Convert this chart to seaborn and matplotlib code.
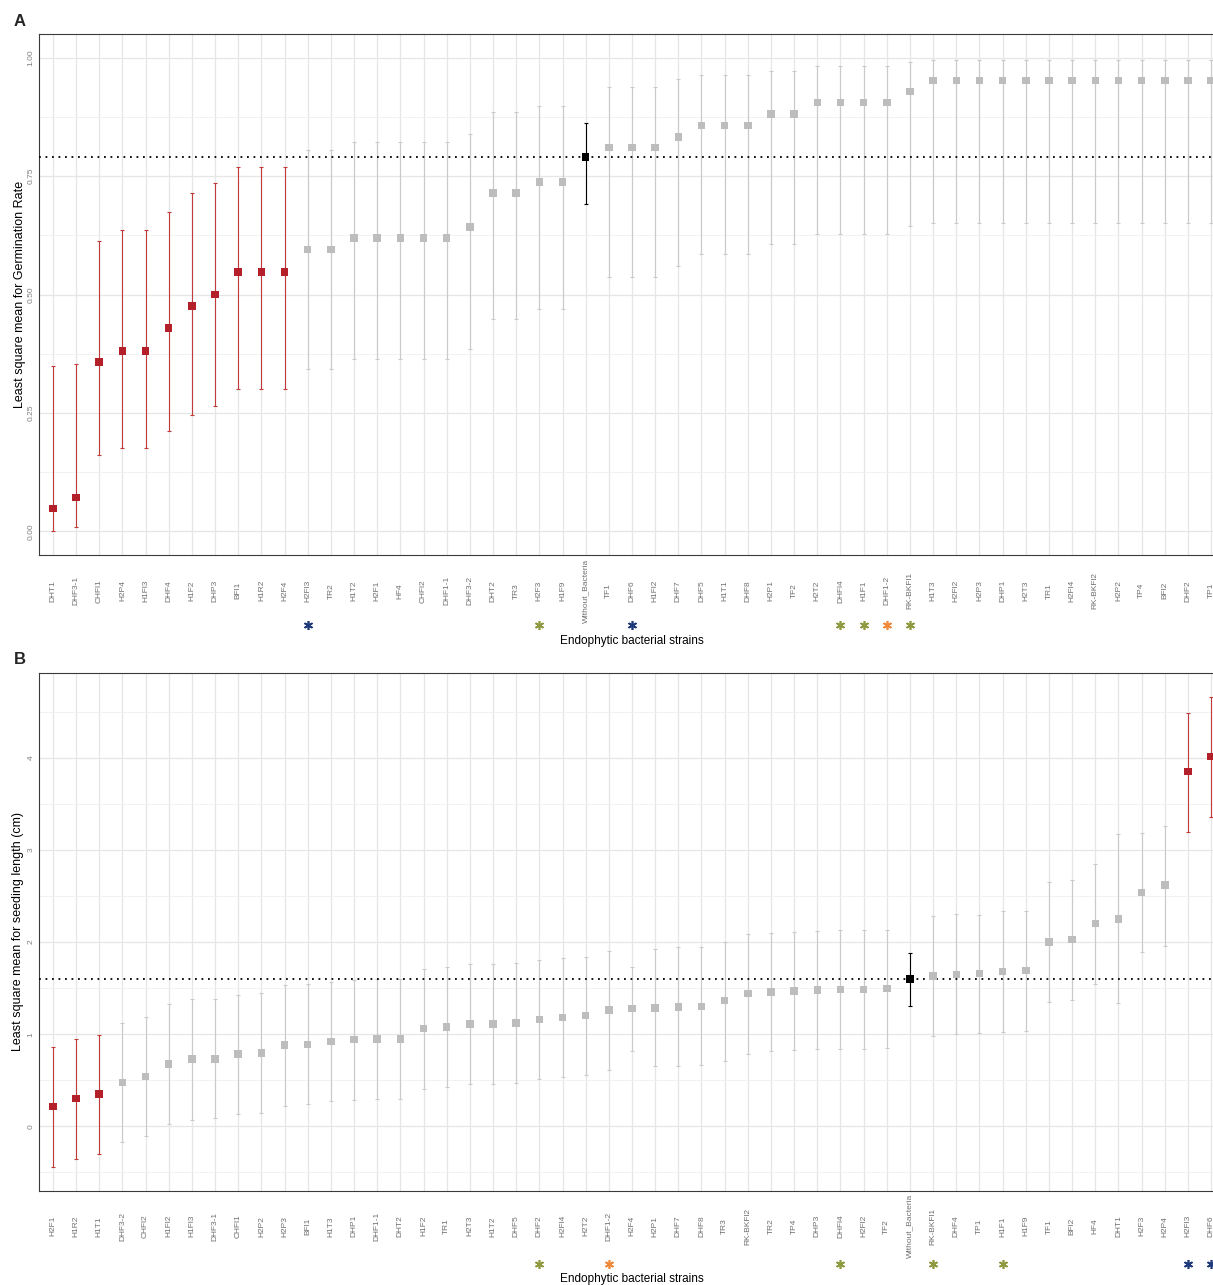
import numpy as np
import pandas as pd
import seaborn as sns
from matplotlib import pyplot as plt
from matplotlib.ticker import MultipleLocator, FormatStrFormatter
from matplotlib.transforms import blended_transform_factory

# ---- panel A: germination rate ----
strains_a = ["DHT1", "DHF3-1", "CHFl1", "H2P4", "H1Fl3", "DHF4", "H1F2", "DHP3", "BFl1", "H1R2",
             "H2F4", "H2Fl3", "TR2", "H1T2", "H2F1", "HF4", "CHFl2", "DHF1-1", "DHF3-2", "DHT2",
             "TR3", "H2F3", "H1F9", "Without_Bacteria", "TF1", "DHF6", "H1Fl2", "DHF7", "DHF5", "H1T1",
             "DHF8", "H2P1", "TF2", "H2T2", "DHFl4", "H1F1", "DHF1-2", "RK-BKFl1", "H1T3", "H2Fl2",
             "H2P3", "DHP1", "H2T3", "TR1", "H2Fl4", "RK-BKFl2", "H2P2", "TP4", "BFl2", "DHF2", "TP1"]
means_a = [0.048, 0.071, 0.357, 0.381, 0.381, 0.429, 0.476, 0.500, 0.548, 0.548,
           0.548, 0.595, 0.595, 0.619, 0.619, 0.619, 0.619, 0.619, 0.643, 0.714,
           0.714, 0.738, 0.738, 0.790, 0.810, 0.810, 0.810, 0.833, 0.857, 0.857,
           0.857, 0.881, 0.881, 0.905, 0.905, 0.905, 0.905, 0.929, 0.952, 0.952,
           0.952, 0.952, 0.952, 0.952, 0.952, 0.952, 0.952, 0.952, 0.952, 0.952, 0.952]
lower_a = [0.001, 0.009, 0.162, 0.175, 0.175, 0.211, 0.246, 0.265, 0.301, 0.301,
           0.301, 0.343, 0.343, 0.364, 0.364, 0.364, 0.364, 0.364, 0.385, 0.449,
           0.449, 0.470, 0.470, 0.692, 0.537, 0.537, 0.537, 0.560, 0.585, 0.585,
           0.585, 0.607, 0.607, 0.628, 0.628, 0.628, 0.628, 0.645, 0.650, 0.650,
           0.650, 0.650, 0.650, 0.650, 0.650, 0.650, 0.650, 0.650, 0.650, 0.650, 0.650]
upper_a = [0.349, 0.354, 0.614, 0.636, 0.636, 0.675, 0.715, 0.735, 0.769, 0.769,
           0.769, 0.806, 0.806, 0.823, 0.823, 0.823, 0.823, 0.823, 0.838, 0.885,
           0.885, 0.899, 0.899, 0.863, 0.938, 0.938, 0.938, 0.954, 0.964, 0.964,
           0.964, 0.972, 0.972, 0.982, 0.982, 0.982, 0.982, 0.991, 0.996, 0.996,
           0.996, 0.996, 0.996, 0.996, 0.996, 0.996, 0.996, 0.996, 0.996, 0.996, 0.996]
groups_a = ["sig"] * 11 + ["ns"] * 12 + ["control"] + ["ns"] * 27
stars_a = {"H2Fl3": "navy", "H2F3": "green", "DHF6": "navy", "DHFl4": "green",
           "H1F1": "green", "DHF1-2": "orange", "RK-BKFl1": "green"}

# ---- panel B: seedling length ----
strains_b = ["H2F1", "H1R2", "H1T1", "DHF3-2", "CHFl2", "H1Fl2", "H1Fl3", "DHF3-1", "CHFl1", "H2P2",
             "H2P3", "BFl1", "H1T3", "DHP1", "DHF1-1", "DHT2", "H1F2", "TR1", "H2T3", "H1T2",
             "DHF5", "DHF2", "H2Fl4", "H2T2", "DHF1-2", "H2F4", "H2P1", "DHF7", "DHF8", "TR3",
             "RK-BKFl2", "TR2", "TP4", "DHP3", "DHFl4", "H2Fl2", "TF2", "Without_Bacteria", "RK-BKFl1", "DHF4",
             "TP1", "H1F1", "H1F9", "TF1", "BFl2", "HF4", "DHT1", "H2F3", "H2P4", "H2Fl3", "DHF6"]
means_b = [0.213, 0.300, 0.349, 0.473, 0.543, 0.678, 0.733, 0.733, 0.783, 0.798,
           0.880, 0.890, 0.920, 0.940, 0.950, 0.950, 1.060, 1.080, 1.110, 1.110,
           1.120, 1.160, 1.183, 1.200, 1.263, 1.277, 1.284, 1.295, 1.302, 1.363,
           1.439, 1.457, 1.468, 1.478, 1.482, 1.486, 1.496, 1.600, 1.629, 1.650,
           1.660, 1.681, 1.688, 2.000, 2.025, 2.200, 2.250, 2.536, 2.620, 3.848, 4.011]
lower_b = [-0.442, -0.353, -0.302, -0.171, -0.109, 0.027, 0.074, 0.093, 0.132, 0.143,
           0.220, 0.240, 0.270, 0.290, 0.300, 0.300, 0.410, 0.430, 0.460, 0.460,
           0.470, 0.510, 0.530, 0.554, 0.608, 0.817, 0.651, 0.651, 0.662, 0.712,
           0.788, 0.813, 0.824, 0.835, 0.835, 0.835, 0.853, 1.306, 0.978, 1.000,
           1.011, 1.022, 1.033, 1.348, 1.373, 1.540, 1.337, 1.891, 1.957, 3.196, 3.359]
upper_b = [0.860, 0.950, 0.988, 1.124, 1.186, 1.326, 1.380, 1.380, 1.430, 1.450,
           1.530, 1.540, 1.570, 1.590, 1.600, 1.600, 1.710, 1.730, 1.760, 1.760,
           1.770, 1.810, 1.830, 1.840, 1.903, 1.730, 1.928, 1.942, 1.942, 2.004,
           2.086, 2.094, 2.108, 2.119, 2.126, 2.126, 2.133, 1.885, 2.277, 2.300,
           2.297, 2.333, 2.333, 2.652, 2.670, 2.850, 3.167, 3.178, 3.260, 4.489, 4.663]
groups_b = ["sig"] * 3 + ["ns"] * 34 + ["control"] + ["ns"] * 11 + ["sig"] * 2
stars_b = {"DHF2": "green", "DHF1-2": "orange", "DHFl4": "green", "RK-BKFl1": "green",
           "H1F1": "green", "H2Fl3": "navy", "DHF6": "navy"}

point_colors = {"sig": "#b3202a", "ns": "#bdbdbd", "control": "#000000"}
bar_colors = {"sig": "#c23b3b", "ns": "#cacaca", "control": "#000000"}
star_colors = {"navy": "#1f3a7a", "green": "#8f9a40", "orange": "#f08a3a"}

W, H = 1213, 1285


def draw_panel(ax, strains, means, lower, upper, groups, stars, ylabel,
               ylim, major, minor, fmt, ylab_x, xlab_y, star_y):
    df = pd.DataFrame({"strain": strains, "mean": means, "lower": lower,
                       "upper": upper, "group": groups})
    x = np.arange(len(df))

    ax.set_axisbelow(True)
    ax.yaxis.set_major_locator(MultipleLocator(major))
    ax.yaxis.set_minor_locator(MultipleLocator(minor))
    ax.grid(which="major", color="#e6e6e6", lw=0.9)
    ax.grid(which="minor", axis="y", color="#f0f0f0", lw=0.6)

    for grp, col in bar_colors.items():
        m = (df["group"] == grp).to_numpy()
        sub = df[m]
        ax.errorbar(x[m], sub["mean"],
                    yerr=[sub["mean"] - sub["lower"], sub["upper"] - sub["mean"]],
                    fmt="none", ecolor=col, elinewidth=0.8, capsize=1.6,
                    capthick=0.8, zorder=2)

    ctrl = df.loc[df["group"] == "control", "mean"].iloc[0]
    ax.axhline(ctrl, color="black", lw=1.3, ls=(0, (1, 2.6)), zorder=3)

    sns.scatterplot(data=df, x="strain", y="mean", hue="group", palette=point_colors,
                    marker="s", s=29, linewidth=0, legend=False, ax=ax, zorder=4)

    ax.set_xlim(-0.6, len(df) - 0.4)
    ax.set_ylim(*ylim)
    ax.set_xticks(x)
    ax.set_xticklabels(strains)
    ax.yaxis.set_major_formatter(FormatStrFormatter(fmt))

    ax.tick_params(axis="x", which="major", length=2.2, width=0.6, color="#444444",
                   labelsize=6, labelcolor="#707070", labelrotation=90, pad=23.5)
    for lbl in ax.get_xticklabels():
        lbl.set_va("center")
    ax.tick_params(axis="y", which="major", length=1.6, width=0.6, color="#444444",
                   labelsize=6, labelcolor="#808080", labelrotation=90, pad=1.5)
    ax.tick_params(axis="y", which="minor", length=0)
    for lbl in ax.get_yticklabels():
        lbl.set_va("center")

    for s in ax.spines.values():
        s.set_color("#3a3a3a")
        s.set_linewidth(0.8)

    ax.set_ylabel(ylabel, fontsize=9, color="black")
    ax.yaxis.set_label_coords(ylab_x, 0.5)
    ax.set_xlabel("Endophytic bacterial strains", fontsize=8.5, color="black")
    ax.xaxis.label.set_va("center")
    ax.xaxis.set_label_coords(0.5, xlab_y)

    trans = blended_transform_factory(ax.transData, ax.transAxes)
    for name, key in stars.items():
        i = strains.index(name)
        ax.plot([i], [star_y], transform=trans, marker=(6, 2, 0), ms=6.5,
                mew=1.2, color=star_colors[key], clip_on=False, ls="none")


sns.set_style("white")
plt.rcParams["font.family"] = ["Liberation Sans", "DejaVu Sans"]

fig = plt.figure(figsize=(W / 100, H / 100), dpi=100)
ax_a = fig.add_axes([39 / W, (H - 555) / H, 1186 / W, 521 / H])
ax_b = fig.add_axes([39 / W, (H - 1190.6) / H, 1186 / W, 517.6 / H])

draw_panel(ax_a, strains_a, means_a, lower_a, upper_a, groups_a, stars_a,
           "Least square mean for Germination Rate", (-0.05, 1.05), 0.25, 0.125,
           "%.2f", -0.011, -86 / 521, -70 / 521)
draw_panel(ax_b, strains_b, means_b, lower_b, upper_b, groups_b, stars_b,
           "Least square mean for seeding length (cm)", (-0.697, 4.918), 1, 0.5,
           "%d", -0.013, -88.4 / 517.6, -73.4 / 517.6)

fig.text(20 / W, 1 - 22 / H, "A", fontsize=12, fontweight="bold", ha="center", va="center")
fig.text(20 / W, 1 - 660 / H, "B", fontsize=12, fontweight="bold", ha="center", va="center")

fig.savefig("out.png", dpi=100)
